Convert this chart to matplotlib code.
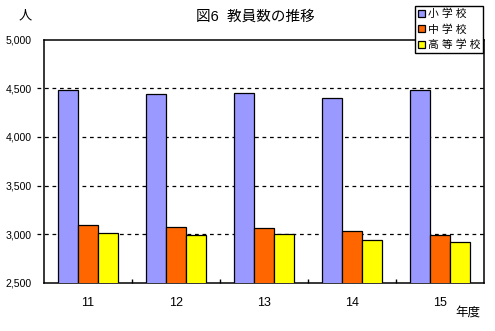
import matplotlib
matplotlib.use('Agg')
import matplotlib.pyplot as plt
import numpy as np

plt.rcParams['font.family'] = ['Liberation Sans', 'Noto Sans CJK JP', 'DejaVu Sans']

YEARS = ['11', '12', '13', '14', '15']
SHOGAKKO = [4479, 4438, 4449, 4397, 4479]
CHUGAKKO = [3092, 3072, 3062, 3031, 2990]
KOTOGAKKO = [3010, 2990, 3000, 2938, 2918]
SERIES_NAMES = ['小 学 校', '中 学 校', '高 等 学 校']
COLORS = ['#9999FF', '#FF6600', '#FFFF00']
YTICKS = [2500, 3000, 3500, 4000, 4500, 5000]


def main():
    fig = plt.figure(figsize=(4.95, 3.31), dpi=100)
    ax = fig.add_axes([44 / 495, 48 / 331, 440 / 495, 243.4 / 331])

    x = np.arange(len(YEARS))
    width = 0.228
    handles = []
    for i, (vals, col, name) in enumerate(zip([SHOGAKKO, CHUGAKKO, KOTOGAKKO], COLORS, SERIES_NAMES)):
        b = ax.bar(x + (i - 1) * width, vals, width, bottom=0, color=col,
                   edgecolor='black', linewidth=0.9, label=name, zorder=3)
        handles.append(b)

    ax.set_xlim(-0.5, len(YEARS) - 0.5)
    ax.set_ylim(2500, 5000)
    ax.set_yticks(YTICKS)
    ax.set_yticklabels([f'{v:,}' for v in YTICKS])
    ax.set_xticks(x)
    ax.set_xticklabels(YEARS)
    ax.set_xticks(np.arange(0.5, len(YEARS) - 1, 1), minor=True)
    ax.tick_params(axis='x', which='major', length=0, pad=10, labelsize=9)
    ax.tick_params(axis='x', which='minor', direction='in', length=3, width=1)
    ax.tick_params(axis='y', length=0, pad=9, labelsize=7.6)

    for v in YTICKS[1:-1]:
        ax.axhline(v, xmin=-0.017, xmax=1, color='black', lw=0.9,
                   ls=(0, (3, 3)), clip_on=False, zorder=2)

    for s in ax.spines.values():
        s.set_linewidth(1.1)
        s.set_color('black')

    fig.text(255 / 495, 1 - 17 / 331, '図6  教員数の推移', ha='center', va='center', fontsize=10.5)
    fig.text(25 / 495, 1 - 16 / 331, '人', ha='center', va='center', fontsize=9.5)
    fig.text(468 / 495, 1 - 313 / 331, '年度', ha='center', va='center', fontsize=9)

    leg = fig.legend(handles=handles, labels=SERIES_NAMES, loc='upper right',
                     bbox_to_anchor=(483 / 495, 1 - 6 / 331), borderaxespad=0,
                     fontsize=7.8, frameon=True, fancybox=False, shadow=False,
                     handlelength=0.6, handleheight=0.6, handletextpad=0.3,
                     labelspacing=0.45, borderpad=0.25)
    leg.get_frame().set_edgecolor('black')
    leg.get_frame().set_linewidth(1.0)
    leg.get_frame().set_alpha(1)

    plt.savefig('out.png', dpi=100)


if __name__ == '__main__':
    main()
